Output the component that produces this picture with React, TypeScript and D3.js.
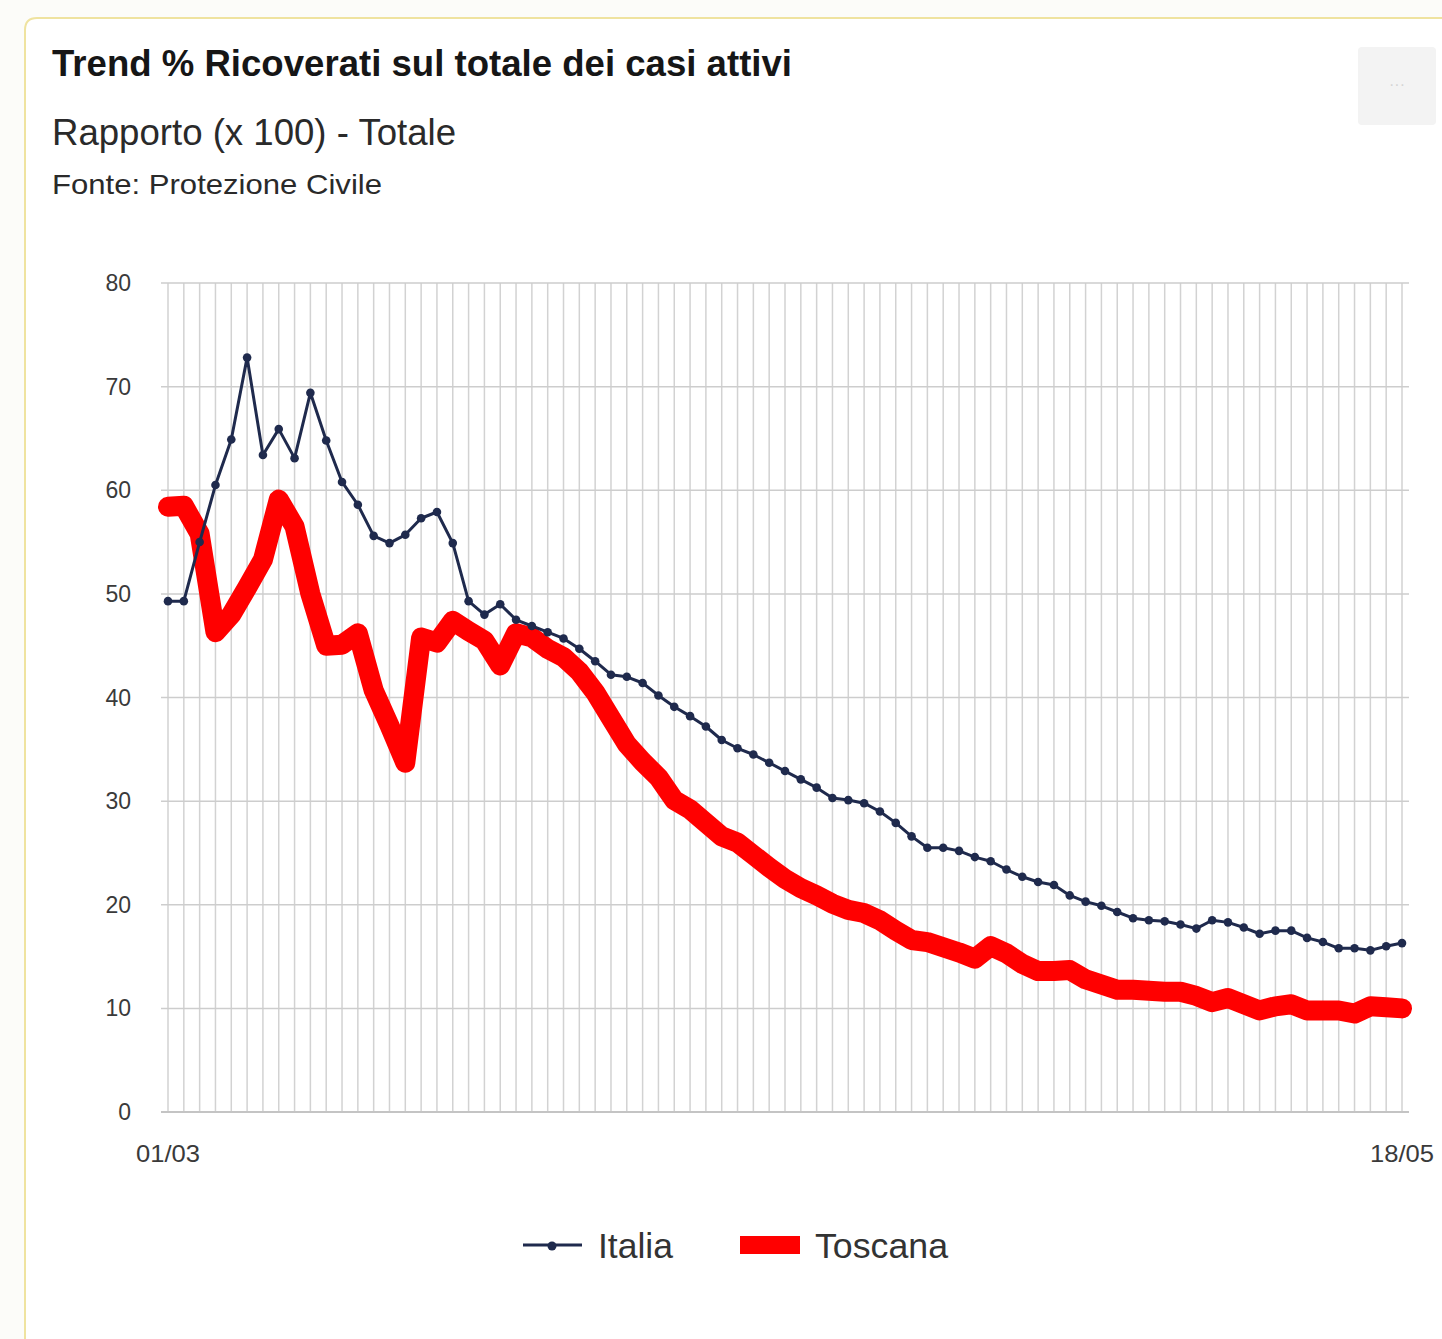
import React from "react";
import * as d3 from "d3";

const W = 1442;
const H = 1339;

const TITLE = "Trend % Ricoverati sul totale dei casi attivi";
const SUBTITLE = "Rapporto (x 100) - Totale";
const SOURCE = "Fonte: Protezione Civile";

// days from 01/03 to 18/05 (79 daily categories)
const startDate = new Date(2020, 2, 1);
const endDate = new Date(2020, 4, 19);
const days: Date[] = d3.timeDay.range(startDate, endDate);
const fmtDay = d3.timeFormat("%d/%m");
const categories: string[] = days.map((d) => fmtDay(d));

const xTickLabels = ["01/03", "18/05"];
const yTicks = [0, 10, 20, 30, 40, 50, 60, 70, 80];

const italia = [
  49.3, 49.3, 55.0, 60.5, 64.9, 72.8, 63.4, 65.9, 63.1, 69.4,
  64.8, 60.8, 58.6, 55.6, 54.9, 55.7, 57.3, 57.9, 54.9, 49.3,
  48.0, 49.0, 47.5, 46.9, 46.3, 45.7, 44.7, 43.5, 42.2, 42.0,
  41.4, 40.2, 39.1, 38.2, 37.2, 35.9, 35.1, 34.5, 33.7, 32.9,
  32.1, 31.3, 30.3, 30.1, 29.8, 29.0, 27.9, 26.6, 25.5, 25.5,
  25.2, 24.6, 24.2, 23.4, 22.7, 22.2, 21.9, 20.9, 20.3, 19.9,
  19.3, 18.7, 18.5, 18.4, 18.1, 17.7, 18.5, 18.3, 17.8, 17.2,
  17.5, 17.5, 16.8, 16.4, 15.8, 15.8, 15.6, 16.0, 16.3,
];

const toscana = [
  58.4, 58.5, 55.8, 46.3, 48.0, 50.6, 53.3, 59.1, 56.5, 50.0,
  45.0, 45.1, 46.2, 40.7, 37.3, 33.7, 45.8, 45.3, 47.4, 46.4,
  45.5, 43.1, 46.2, 45.8, 44.7, 43.9, 42.5, 40.5, 38.0, 35.5,
  33.8, 32.3, 30.1, 29.2, 27.9, 26.6, 26.0, 24.8, 23.6, 22.5,
  21.6, 20.9, 20.1, 19.5, 19.2, 18.5, 17.5, 16.6, 16.4, 15.9,
  15.4, 14.8, 16.0, 15.3, 14.3, 13.6, 13.6, 13.7, 12.8, 12.3,
  11.8, 11.8, 11.7, 11.6, 11.6, 11.2, 10.6, 11.0, 10.4, 9.8,
  10.2, 10.4, 9.8, 9.8, 9.8, 9.5, 10.2, 10.1, 10.0,
];

const seriesNames = ["Italia", "Toscana"];
const NAVY = "#1f2a4d";
const RED = "#ff0000";
const FONT = "'Liberation Sans', Arial, Helvetica, sans-serif";

export default function App() {
  const x = d3
    .scaleLinear()
    .domain([0, categories.length - 1])
    .range([168, 1402]);
  const y = d3.scaleLinear().domain([0, 80]).range([1112, 283]);

  const line = d3
    .line<number>()
    .x((_, i) => x(i))
    .y((d) => y(d));

  return (
    <svg
      width={W}
      height={H}
      style={{ position: "absolute", left: 0, top: 0, background: "#fcfcf9" }}
      fontFamily={FONT}
    >
      {/* card */}
      <path
        d={`M25,${H + 10} L25,30 Q25,18 37,18 L${W + 10},18 L${W + 10},${H + 10} Z`}
        fill="#ffffff"
        stroke="#efe3a0"
        strokeWidth={2}
      />

      {/* menu button */}
      <rect x={1358} y={47} width={78} height={78} rx={4} fill="#f3f3f3" />
      <text x={1397} y={90} textAnchor="middle" fontSize={16} fill="#d5d5d5">
        ···
      </text>

      {/* titles */}
      <text
        x={52}
        y={76}
        fontSize={37}
        fontWeight="bold"
        fill="#161616"
        textLength={740}
        lengthAdjust="spacingAndGlyphs"
      >
        {TITLE}
      </text>
      <text
        x={52}
        y={145}
        fontSize={36}
        fill="#2a2a2a"
        textLength={404}
        lengthAdjust="spacingAndGlyphs"
      >
        {SUBTITLE}
      </text>
      <text
        x={52}
        y={194}
        fontSize={28}
        fill="#2a2a2a"
        textLength={330}
        lengthAdjust="spacingAndGlyphs"
      >
        {SOURCE}
      </text>

      {/* vertical grid */}
      {categories.map((c, i) => (
        <line
          key={"v" + c}
          x1={x(i)}
          x2={x(i)}
          y1={y(80)}
          y2={y(0)}
          stroke="#d2d2d2"
          strokeWidth={1.5}
        />
      ))}
      {/* horizontal grid */}
      {yTicks.map((t) => (
        <line
          key={"h" + t}
          x1={161}
          x2={1409}
          y1={y(t)}
          y2={y(t)}
          stroke={t === 0 ? "#c4c4c4" : "#cdcdcd"}
          strokeWidth={t === 0 ? 2 : 1.5}
        />
      ))}

      {/* y tick labels */}
      {yTicks.map((t) => (
        <text
          key={"yl" + t}
          x={131}
          y={y(t)}
          dy="0.35em"
          textAnchor="end"
          fontSize={23}
          fill="#3a3a3a"
        >
          {t}
        </text>
      ))}

      {/* x tick labels */}
      {xTickLabels.map((lab) => {
        const i = categories.indexOf(lab);
        return (
          <text
            key={"xl" + lab}
            x={x(i)}
            y={1162}
            textAnchor="middle"
            fontSize={24}
            fill="#3a3a3a"
            textLength={64}
            lengthAdjust="spacingAndGlyphs"
          >
            {lab}
          </text>
        );
      })}

      {/* Toscana */}
      <path
        d={line(toscana) || ""}
        fill="none"
        stroke={RED}
        strokeWidth={20}
        strokeLinejoin="round"
        strokeLinecap="round"
      />

      {/* Italia */}
      <path
        d={line(italia) || ""}
        fill="none"
        stroke={NAVY}
        strokeWidth={3}
        strokeLinejoin="round"
      />
      {italia.map((v, i) => (
        <circle key={"p" + i} cx={x(i)} cy={y(v)} r={4.3} fill={NAVY} />
      ))}

      {/* legend */}
      <g>
        <line x1={523} x2={582} y1={1245} y2={1245} stroke={NAVY} strokeWidth={3} />
        <circle cx={552} cy={1246} r={4.5} fill={NAVY} />
        <text x={598} y={1258} fontSize={35} fill="#333" textLength={75} lengthAdjust="spacingAndGlyphs">
          {seriesNames[0]}
        </text>
        <rect x={740} y={1236} width={60} height={18} fill={RED} />
        <text x={815} y={1258} fontSize={35} fill="#333" textLength={133} lengthAdjust="spacingAndGlyphs">
          {seriesNames[1]}
        </text>
      </g>
    </svg>
  );
}
